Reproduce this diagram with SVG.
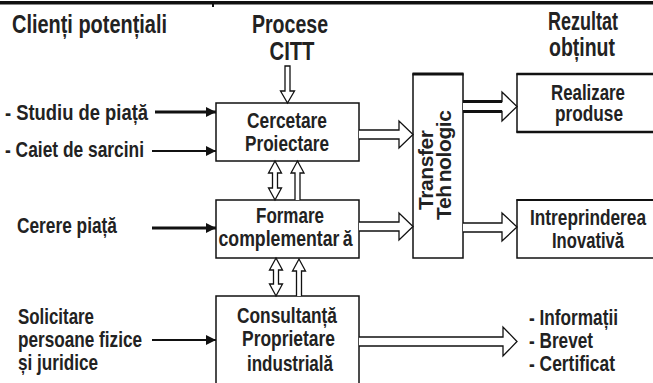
<svg xmlns="http://www.w3.org/2000/svg" width="653" height="383" viewBox="0 0 653 383">
<style>
  .t{font-family:"Liberation Sans Narrow","Arial Narrow","Liberation Sans",Arial,sans-serif;font-weight:bold;font-size:22px;fill:#222}
  .h{font-size:25px}
  .r{font-family:"Liberation Sans",Arial,sans-serif;font-weight:bold;font-size:21px;fill:#222}
  .m{text-anchor:middle}
  .box{fill:#fff;stroke:#111;stroke-width:1.5}
  .ha{fill:#fff;stroke:#111;stroke-width:1.3;stroke-linejoin:miter}
  .in{stroke:#111;fill:none}
</style>
<defs>
  <marker id="ah" viewBox="0 0 10 10" refX="10" refY="5" markerWidth="10" markerHeight="10" markerUnits="userSpaceOnUse" orient="auto">
    <path d="M0,0 L10,5 L0,10 Z" fill="#111"/>
  </marker>
</defs>
<rect width="653" height="383" fill="#fff"/>
<rect x="0" y="1" width="653" height="3.5" fill="#111"/>
<rect x="212" y="4" width="2" height="3" fill="#111"/>

<g id="header-clienti"><text class="t h" x="12" y="33" textLength="155" lengthAdjust="spacingAndGlyphs">Clienți potențiali</text></g>
<g id="header-procese">
  <text class="t h m" x="290" y="33" textLength="76" lengthAdjust="spacingAndGlyphs">Procese</text>
  <text class="t h m" x="292" y="60" textLength="45" lengthAdjust="spacingAndGlyphs">CITT</text>
</g>
<g id="header-rezultat">
  <text class="t h m" x="583" y="30" textLength="70" lengthAdjust="spacingAndGlyphs">Rezultat</text>
  <text class="t h m" x="582" y="56" textLength="66" lengthAdjust="spacingAndGlyphs">obținut</text>
</g>

<g id="in-studiu"><text class="t" x="5" y="120" textLength="143" lengthAdjust="spacingAndGlyphs">- Studiu de piață</text></g>
<g id="in-caiet"><text class="t" x="5" y="157" textLength="139" lengthAdjust="spacingAndGlyphs">- Caiet de sarcini</text></g>
<g id="in-cerere"><text class="t" x="17" y="233" textLength="100" lengthAdjust="spacingAndGlyphs">Cerere piață</text></g>
<g id="in-solicitare">
  <text class="t" x="18" y="324" textLength="76" lengthAdjust="spacingAndGlyphs">Solicitare</text>
  <text class="t" x="18" y="347" textLength="124" lengthAdjust="spacingAndGlyphs">persoane fizice</text>
  <text class="t" x="18" y="370" textLength="80" lengthAdjust="spacingAndGlyphs">și juridice</text>
</g>

<g id="node-cercetare">
  <rect class="box" x="216" y="103" width="143" height="58"/>
  <text class="t m" x="287" y="128" textLength="80" lengthAdjust="spacingAndGlyphs">Cercetare</text>
  <text class="t m" x="287" y="151" textLength="84" lengthAdjust="spacingAndGlyphs">Proiectare</text>
</g>
<g id="node-formare">
  <rect class="box" x="216" y="200" width="143" height="58"/>
  <text class="t m" x="290" y="223" textLength="68" lengthAdjust="spacingAndGlyphs">Formare</text>
  <text class="t m" x="285.5" y="246" textLength="134" lengthAdjust="spacingAndGlyphs">complementar<tspan dx="4">ă</tspan></text>
</g>
<g id="node-consultanta">
  <rect class="box" x="216" y="296" width="143" height="100"/>
  <text class="t m" x="287" y="323" textLength="100" lengthAdjust="spacingAndGlyphs">Consultanță</text>
  <text class="t m" x="288.5" y="346" textLength="93" lengthAdjust="spacingAndGlyphs">Proprietare</text>
  <text class="t m" x="290" y="371" textLength="86" lengthAdjust="spacingAndGlyphs">industrială</text>
</g>
<g id="node-transfer">
  <rect class="box" x="413" y="74" width="50" height="184"/>
  <line x1="412.5" y1="74" x2="463.5" y2="74" stroke="#111" stroke-width="3"/>
  <text class="r m" transform="translate(433,170) rotate(-90)" textLength="80" lengthAdjust="spacing">Transfer</text>
  <text class="r m" transform="translate(451,165) rotate(-90)" textLength="110" lengthAdjust="spacing">Teh<tspan dx="3">nologic</tspan></text>
</g>
<g id="node-realizare">
  <rect class="box" x="517" y="74" width="145" height="58"/>
  <line x1="516.5" y1="74" x2="653" y2="74" stroke="#111" stroke-width="2.5"/>
  <line x1="516.5" y1="132" x2="653" y2="132" stroke="#111" stroke-width="2.5"/>
  <text class="t m" x="588" y="100" textLength="74" lengthAdjust="spacingAndGlyphs">Realizare</text>
  <text class="t m" x="589" y="121" textLength="68" lengthAdjust="spacingAndGlyphs">produse</text>
</g>
<g id="node-intreprinderea">
  <rect class="box" x="517" y="200" width="145" height="58"/>
  <line x1="516.5" y1="200" x2="653" y2="200" stroke="#111" stroke-width="2"/>
  <text class="t m" x="588" y="225" textLength="116" lengthAdjust="spacingAndGlyphs">Intreprinderea</text>
  <text class="t m" x="588" y="248" textLength="72" lengthAdjust="spacingAndGlyphs">Inovativă</text>
</g>
<g id="out-rezultate">
  <text class="t" x="529" y="325" textLength="89" lengthAdjust="spacingAndGlyphs">- Informații</text>
  <text class="t" x="529" y="348" textLength="64" lengthAdjust="spacingAndGlyphs">- Brevet</text>
  <text class="t" x="529" y="371" textLength="86" lengthAdjust="spacingAndGlyphs">- Certificat</text>
</g>

<g id="connectors">
  <line class="in" x1="155" y1="112" x2="216" y2="112" stroke-width="3" marker-end="url(#ah)"/>
  <line class="in" x1="152" y1="151" x2="216" y2="151" stroke-width="2" marker-end="url(#ah)"/>
  <line class="in" x1="152" y1="228" x2="216" y2="228" stroke-width="3" marker-end="url(#ah)"/>
  <line class="in" x1="152" y1="340" x2="216" y2="340" stroke-width="2" marker-end="url(#ah)"/>

  <path class="ha" d="M285,66 L285,91 L280.5,91 L287.5,103 L294.5,91 L290,91 L290,66 Z"/>

  <path class="ha" d="M359,130 L399,130 L399,121 L413,134.5 L399,148 L399,139 L359,139"/>
  <path class="ha" d="M359,222 L399,222 L399,213 L413,226.5 L399,240 L399,231 L359,231"/>
  <path class="ha" d="M463,101.5 L502,101.5 L502,92 L517,106.5 L502,121 L502,111.5 L463,111.5"/>
  <line x1="463" y1="101.5" x2="502" y2="101.5" stroke="#111" stroke-width="3"/>
  <line x1="463" y1="111.5" x2="502" y2="111.5" stroke="#111" stroke-width="3"/>
  <path class="ha" d="M463,223 L502,223 L502,213 L517,227 L502,241 L502,232 L463,232"/>
  <path class="ha" d="M359,337 L503,337 L503,327 L517,341.5 L503,356 L503,346 L359,346"/>

  <path class="ha" d="M275,161 L281.5,173 L277.5,173 L277.5,188 L281.5,188 L275,200 L268.5,188 L272.5,188 L272.5,173 L268.5,173 Z"/>
  <path class="ha" d="M295,200 L295,173 L291,173 L297.5,161 L304,173 L300,173 L300,200"/>
  <path class="ha" d="M276,258 L282.5,270 L278.5,270 L278.5,284 L282.5,284 L276,296 L269.5,284 L273.5,284 L273.5,270 L269.5,270 Z"/>
  <path class="ha" d="M296.5,296 L296.5,271 L292.5,271 L299,259 L305.5,271 L301.5,271 L301.5,296"/>
</g>
</svg>
